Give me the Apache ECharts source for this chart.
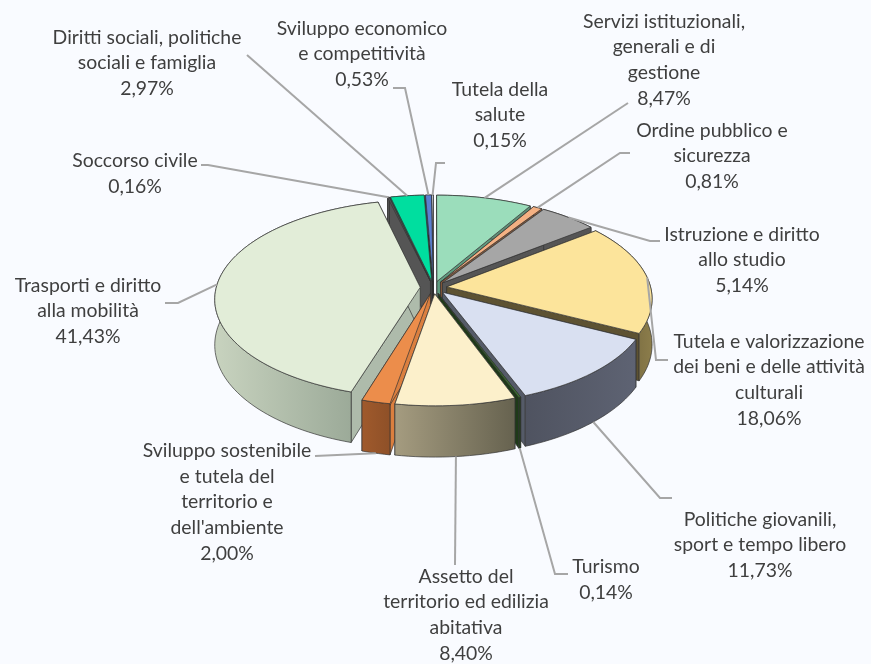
<!DOCTYPE html>
<html><head><meta charset="utf-8">
<script src="https://cdn.jsdelivr.net/npm/echarts@6/dist/echarts.min.js"></script>
<style>html,body{margin:0;padding:0;background:#F9FBFF}#c{width:871px;height:664px}</style>
</head><body><div id="c"></div>
<script>
const categories = [
 "Servizi istituzionali,\ngenerali e di\ngestione","Ordine pubblico e\nsicurezza","Istruzione e diritto\nallo studio",
 "Tutela e valorizzazione\ndei beni e delle attività\nculturali","Politiche giovanili,\nsport e tempo libero","Turismo",
 "Assetto del\nterritorio ed edilizia\nabitativa","Sviluppo sostenibile\ne tutela del\nterritorio e\ndell'ambiente",
 "Trasporti e diritto\nalla mobilità","Soccorso civile","Diritti sociali, politiche\nsociali e famiglia",
 "Sviluppo economico\ne competitività","Tutela della\nsalute"];
const values = [8.47,0.81,5.14,18.06,11.73,0.14,8.40,2.00,41.43,0.16,2.97,0.53,0.15];
const valueLabels = ["8,47%","0,81%","5,14%","18,06%","11,73%","0,14%","8,40%","2,00%","41,43%","0,16%","2,97%","0,53%","0,15%"];

// styles
const topColors   = ["#9BDDBB","#F4B183","#A6A6A6","#FCE49B","#D9E0F1","#3D7A2E","#FCF0CB","#EC8D4B","#E2EDD8","#555555","#00DE9F","#5B7FD0","#E4E8EE"];
const wallLeft    = ["#5F8C75","#8A5A3A","#555555","#5D5232","#4F5360","#22401A","#A59C80","#A05A2C","#C8D3BF","#555555","#1F6F55","#2F4470","#8A8D92"];
const wallRight   = ["#5F8C75","#8A5A3A","#555555","#8C7D4B","#5E6373","#22401A","#66624F","#8E5028","#93A291","#555555","#1F6F55","#2F4470","#8A8D92"];
const sideColors  = ["#5F9C80","#8A5A3A","#555555","#5D5232","#555B68","#1F3A18","#6A6652","#DB7F3F","#AEBBAB","#555555","#555555","#222222","#8A8D92"];

// label layout
const labelX = [664,712,742,769,760,606,466,227,88,135,147,362,500];
const labelY = [60,156,260,380,545,580,615,502,311,174,63,54,115];
const leaderElbowX = [628,620,650,656,660,555,455,315,178,208,247,405,436];
const leaderElbowY = [103,153,241,360,498,574,565,456,303,165,55,88,163];
const leaderEndX = [628,630,660,668,672,568,455,315,165,201,247,393,445];
const leaderEndY = [103,153,241,360,498,574,565,456,303,165,55,88,163];
const leaderOnWall = [0,0,0,0,1,1,1,1,0,0,0,0,0];

// geometry
const cx=433.5, cy=287.5, R=204, tilt=0.478, persp=0.115, depth=45, explode=0.065;
const total = values.reduce((a,b)=>a+b,0);
let acc=0;
const starts=[], ends=[];
values.forEach(v=>{starts.push(acc/total*Math.PI*2); acc+=v; ends.push(acc/total*Math.PI*2);});
const mids = starts.map((s,i)=>(s+ends[i])/2);
function proj(u,v,z){const s=1/(1-persp*v);return [cx+R*u*s, cy+R*tilt*v*s+z*depth*s];}
function apex(i,z){return proj(explode*Math.sin(mids[i]),-explode*Math.cos(mids[i]),z);}
function rim(i,a,z){return proj(explode*Math.sin(mids[i])+Math.sin(a),-explode*Math.cos(mids[i])-Math.cos(a),z);}
function arc(i,z,rev){const n=Math.max(2,Math.ceil((ends[i]-starts[i])/0.03));const p=[];
 for(let k=0;k<=n;k++){const t=rev?1-k/n:k/n;p.push(rim(i,starts[i]+(ends[i]-starts[i])*t,z));}return p;}
// back slices first
const order = values.map((_,i)=>i).sort((a,b)=>(-Math.cos(mids[a]))-(-Math.cos(mids[b])));
const stroke={stroke:"#333333",lineWidth:0.7,lineJoin:"round"};

function renderSlice(params,api){
 const i=api.value(0);
 const wall=arc(i,0,false).concat(arc(i,1,true));
 const a0=apex(i,0),a1=apex(i,1);
 const side=(ang)=>[a0,rim(i,ang,0),rim(i,ang,1),a1];
 const mk=(pts,fill)=>({type:"polygon",shape:{points:pts},style:Object.assign({fill:fill},stroke)});
 return {type:"group",children:[
  mk(side(starts[i]),sideColors[i]),
  mk(side(ends[i]),sideColors[i]),
  mk(wall,new echarts.graphic.LinearGradient(0,0,1,0,[{offset:0,color:wallLeft[i]},{offset:1,color:wallRight[i]}])),
  mk([a0].concat(arc(i,0,false)),topColors[i])
 ]};
}
function renderLabel(params,api){
 const i=api.value(0);
 const s=rim(i,mids[i],leaderOnWall[i]);
 return {type:"group",children:[
  {type:"polyline",shape:{points:[s,[leaderElbowX[i],leaderElbowY[i]],[leaderEndX[i],leaderEndY[i]]]},
   style:{stroke:"#A6A6A6",lineWidth:2,fill:null}},
  {type:"text",style:{text:categories[i]+"\n"+valueLabels[i],x:labelX[i],y:labelY[i],align:"center",verticalAlign:"middle",
    font:"19.4px Lato",lineHeight:25.7,fill:"#3F3F3F"}}
 ]};
}
const chart=echarts.init(document.getElementById("c"),null,{renderer:"canvas"});
chart.setOption({
 animation:false,backgroundColor:"#F9FBFF",
 series:[
  {type:"custom",coordinateSystem:"none",renderItem:renderSlice,data:order.map(i=>[i]),silent:true,z:2},
  {type:"custom",coordinateSystem:"none",renderItem:renderLabel,data:values.map((_,i)=>[i]),silent:true,z:3}
 ]
});
</script></body></html>
